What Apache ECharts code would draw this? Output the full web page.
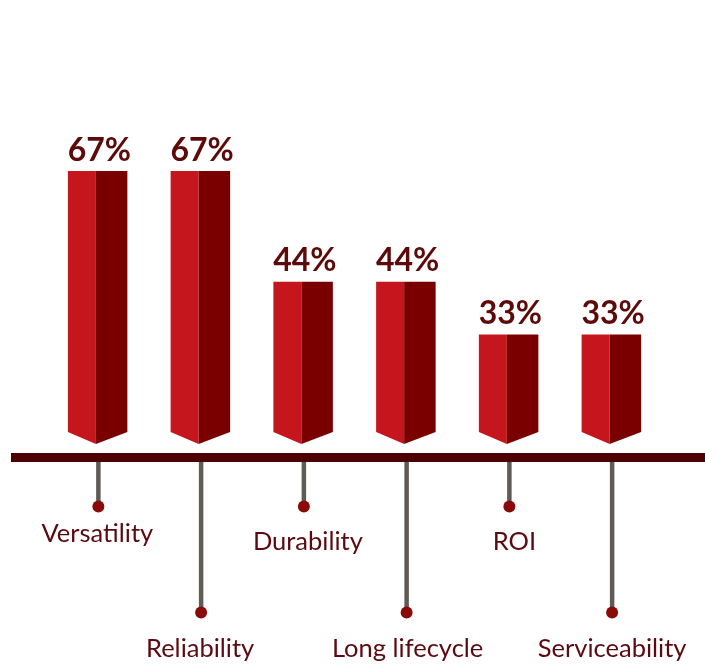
<!DOCTYPE html>
<html>
<head>
<meta charset="utf-8">
<script src="https://cdn.jsdelivr.net/npm/echarts@6/dist/echarts.min.js"></script>
<style>
html,body{margin:0;padding:0;background:#fff;}
#chart{width:705px;height:665px;}
</style>
</head>
<body>
<div id="chart"></div>
<script>
// ---- data ----
const categories = ['Versatility', 'Reliability', 'Durability', 'Long lifecycle', 'ROI', 'Serviceability'];
const values = [67, 67, 44, 44, 33, 33];
const valueLabels = ['67%', '67%', '44%', '44%', '33%', '33%'];

// ---- style ----
const BASE_Y = 457.5;
const labelNudgeX = [0, 0, 5, 2, 6, 1];
const labelNudgeY = [-8, 0, 0, 0, 0, 0];
const FONT = 'Lato, "Open Sans", sans-serif';

const chart = echarts.init(document.getElementById('chart'), null, {renderer: 'canvas'});

const option = {
  backgroundColor: '#ffffff',
  animation: false,
  grid: {left: 46, right: 42.5, top: 12.3, bottom: 171.7},
  xAxis: {type: 'category', data: categories, show: false},
  yAxis: {type: 'value', min: 0, max: 100, show: false},
  graphic: [{
    type: 'rect',
    shape: {x: 11, y: BASE_Y - 4.5, width: 694, height: 9},
    style: {fill: '#4d0000'},
    z: 1
  }],
  series: [{
    type: 'custom',
    clip: false,
    z: 2,
    data: values.map((v, i) => [i, v]),
    renderItem: function (params, api) {
      const i = api.value(0);
      const v = api.value(1);
      const p = api.coord([i, v]);
      const c = p[0], top = p[1];
      const sideY = BASE_Y - 25.5;
      const pointY = BASE_Y - 13.5;
      const xl = c - 29.5, xm = c - 1.5, xr = c + 30;
      const isLong = i % 2 === 1;
      const dotY = isLong ? 612.5 : 506.5;
      const labY = (isLong ? 649 : 542) + labelNudgeY[i];
      return {
        type: 'group',
        children: [
          {type: 'polygon', shape: {points: [[xl, top], [xm, top], [xm, pointY], [xl, sideY]]}, style: {fill: '#c4161c'}},
          {type: 'polygon', shape: {points: [[xm, top], [xr, top], [xr, sideY], [xm, pointY]]}, style: {fill: '#7a0000'}},
          {type: 'text', style: {text: valueLabels[i], x: c + 2, y: top - 20.5, align: 'center', verticalAlign: 'middle',
            font: 'bold 32px ' + FONT, fill: '#5c0a0a'}},
          {type: 'line', shape: {x1: c + 1, y1: BASE_Y + 4.5, x2: c + 1, y2: dotY}, style: {stroke: '#5f5c58', lineWidth: 4.5}},
          {type: 'circle', shape: {cx: c + 1, cy: dotY, r: 6}, style: {fill: '#8a0a0a'}},
          {type: 'text', style: {text: categories[i], x: c + labelNudgeX[i], y: labY, align: 'center', verticalAlign: 'middle',
            font: '25.5px ' + FONT, fill: '#5a0a10'}}
        ]
      };
    }
  }]
};
chart.setOption(option);
</script>
</body>
</html>
